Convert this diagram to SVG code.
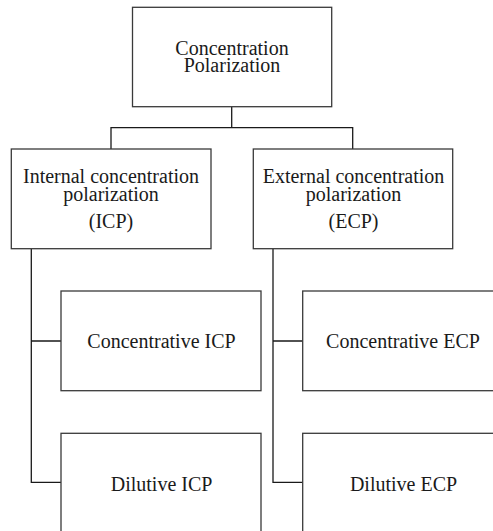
<svg xmlns="http://www.w3.org/2000/svg" width="493" height="531" viewBox="0 0 493 531">
<style>
.box{fill:#fff;stroke:#3a3a3a;stroke-width:1.3}
.c{fill:none;stroke:#1a1a1a;stroke-width:1.3}
text{font-family:"Liberation Serif","Times New Roman",serif;font-size:20px;fill:#1a1a1a;text-anchor:middle}
</style>
<rect width="493" height="531" fill="#fff"/>
<g id="connectors">
<path class="c" d="M231.7,107 V127.7 M111,149 V127.7 H352.7 V149"/>
<path class="c" d="M31.3,249 V482.3 H61 M31.3,341 H61"/>
<path class="c" d="M273,249 V482.3 H302.7 M273,341 H302.7"/>
</g>
<g id="cp">
<rect class="box" x="132.5" y="7.3" width="199.2" height="99.4"/>
<text x="232" y="54.5">Concentration</text>
<text x="232" y="71.8">Polarization</text>
</g>
<g id="icp">
<rect class="box" x="11.3" y="149" width="199.7" height="99.7"/>
<text x="111" y="182.5">Internal concentration</text>
<text x="111" y="200.5">polarization</text>
<text x="111" y="228">(ICP)</text>
</g>
<g id="ecp">
<rect class="box" x="253.3" y="149" width="199.4" height="99.7"/>
<text x="353.5" y="182.5">External concentration</text>
<text x="353.5" y="200.5">polarization</text>
<text x="353.5" y="228">(ECP)</text>
</g>
<g id="conc-icp">
<rect class="box" x="61" y="291" width="200" height="99.7"/>
<text x="161.5" y="348.3">Concentrative ICP</text>
</g>
<g id="conc-ecp">
<rect class="box" x="302.7" y="291" width="200" height="99.7"/>
<text x="403" y="348.3">Concentrative ECP</text>
</g>
<g id="dil-icp">
<rect class="box" x="61" y="433.3" width="200" height="110"/>
<text x="161.6" y="490.7">Dilutive ICP</text>
</g>
<g id="dil-ecp">
<rect class="box" x="302.7" y="433.3" width="200" height="110"/>
<text x="403.5" y="490.7">Dilutive ECP</text>
</g>
</svg>
